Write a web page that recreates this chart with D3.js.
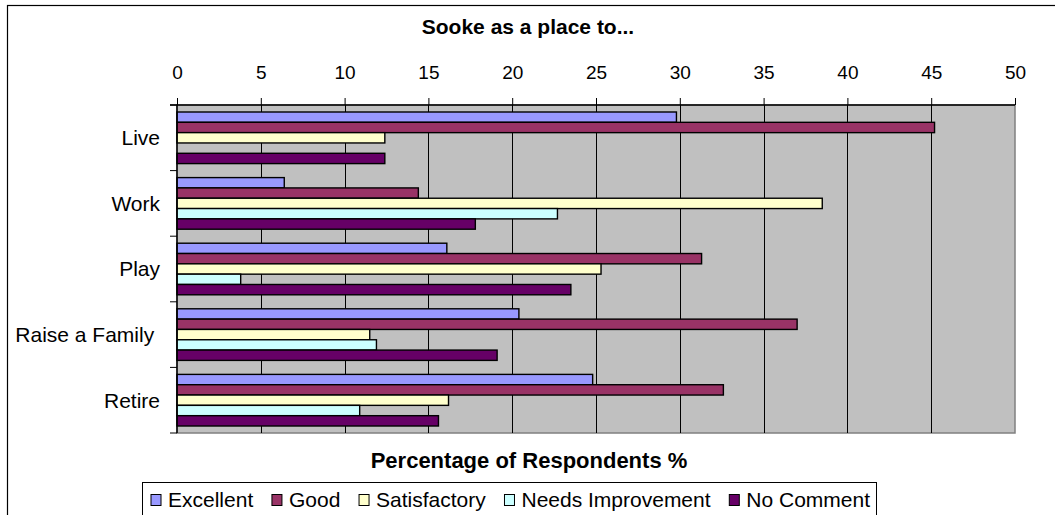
<!DOCTYPE html>
<html>
<head>
<meta charset="utf-8">
<script src="https://cdn.jsdelivr.net/npm/d3@7"></script>
<style>
  html, body { margin: 0; padding: 0; background: #fff; }
  svg { display: block; font-family: Arial, "Liberation Sans", sans-serif; }
  text { white-space: pre; }
</style>
</head>
<body>
<svg id="chart" width="1055" height="515"></svg>
<script>
// ---- data ----
const categories = ["Live", "Work", "Play", "Raise a Family ", "Retire"];
const seriesNames = ["Excellent", "Good", "Satisfactory", "Needs Improvement", "No Comment"];
const excellent = [29.8, 6.4, 16.1, 20.4, 24.8];
const good = [45.2, 14.4, 31.3, 37.0, 32.6];
const satisfactory = [12.4, 38.5, 25.3, 11.5, 16.2];
const needsImprovement = [0, 22.7, 3.8, 11.9, 10.9];
const noComment = [12.4, 17.8, 23.5, 19.1, 15.6];
const xTicks = [0, 5, 10, 15, 20, 25, 30, 35, 40, 45, 50];
const seriesColors = ["#9999FF", "#993366", "#FFFFCC", "#CCFFFF", "#660066"];
const titleText = "Sooke as a place to...";
const xTitleText = "Percentage of Respondents %";

const seriesValues = [excellent, good, satisfactory, needsImprovement, noComment];

const svg = d3.select("#chart");
const FONT = 21;
const TICKFONT = 19;

// outer chart border
svg.append("rect").attr("x", 7.5).attr("y", 5.5).attr("width", 1060).attr("height", 520)
  .attr("fill", "#fff").attr("stroke", "#000").attr("stroke-width", 1.2);

const plot = { left: 177, right: 1015, top: 105, bottom: 433 };

const x = d3.scaleLinear().domain([0, 50]).range([plot.left, plot.right]);
const y0 = d3.scaleBand().domain(categories).range([plot.top, plot.bottom]).padding(0);
const inner = 7;
const y1 = d3.scaleBand().domain(seriesNames).range([inner, y0.bandwidth() - inner]).padding(0);

// plot background
svg.append("rect").attr("x", plot.left).attr("y", plot.top)
  .attr("width", plot.right - plot.left).attr("height", plot.bottom - plot.top)
  .attr("fill", "#C0C0C0").attr("stroke", "#808080").attr("stroke-width", 1.5);

// gridlines
svg.append("g").selectAll("line").data(xTicks.filter(t => t > 0 && t < 50)).join("line")
  .attr("x1", d => Math.round(x(d)) + 0.5).attr("x2", d => Math.round(x(d)) + 0.5)
  .attr("y1", plot.top).attr("y2", plot.bottom)
  .attr("stroke", "#000").attr("stroke-width", 1);

// bars
const groups = svg.append("g").selectAll("g").data(categories).join("g")
  .attr("transform", d => `translate(0,${y0(d)})`);
groups.selectAll("rect")
  .data((c, ci) => seriesNames.map((s, si) => ({ s, si, v: seriesValues[si][ci] })).filter(d => d.v > 0))
  .join("rect")
  .attr("x", x(0))
  .attr("y", d => y1(d.s))
  .attr("width", d => x(d.v) - x(0))
  .attr("height", y1.bandwidth())
  .attr("fill", d => seriesColors[d.si])
  .attr("stroke", "#000").attr("stroke-width", 1.4);

// top axis
const xAxis = d3.axisTop(x).tickValues(xTicks).tickSize(7).tickPadding(20).tickFormat(d3.format("d"));
const gx = svg.append("g").attr("transform", `translate(0,${plot.top})`).call(xAxis);
gx.select(".domain").attr("stroke", "#000").attr("stroke-width", 1.5).attr("d", `M${plot.left - 7},0H${plot.right}`);
gx.selectAll(".tick line").attr("stroke", "#000");
gx.selectAll(".tick text").attr("font-size", TICKFONT).attr("fill", "#000")
  .attr("font-family", "Arial, 'Liberation Sans', sans-serif").attr("dy", "0.35em").attr("y", -33);

// left axis (category boundaries as ticks)
svg.append("line").attr("x1", plot.left).attr("x2", plot.left).attr("y1", plot.top).attr("y2", plot.bottom)
  .attr("stroke", "#000").attr("stroke-width", 1.5);
const bounds = categories.map(c => y0(c)).concat([plot.bottom]);
svg.append("g").selectAll("line").data(bounds).join("line")
  .attr("x1", plot.left - 7).attr("x2", plot.left)
  .attr("y1", d => d).attr("y2", d => d)
  .attr("stroke", "#000").attr("stroke-width", 1);
svg.append("g").selectAll("text").data(categories).join("text")
  .attr("x", 160).attr("y", d => y0(d) + y0.bandwidth() / 2)
  .attr("dy", "0.35em").attr("text-anchor", "end")
  .attr("font-size", FONT).attr("fill", "#000").text(d => d);

// title
svg.append("text").attr("x", 528).attr("y", 27).attr("dy", "0.35em").attr("text-anchor", "middle")
  .attr("font-size", FONT).attr("font-weight", "bold").text(titleText);

// x title
svg.append("text").attr("x", 529).attr("y", 460).attr("dy", "0.35em").attr("text-anchor", "middle")
  .attr("font-size", 22).attr("font-weight", "bold").text(xTitleText);

// legend
const leg = { left: 142, right: 876, top: 482, cy: 500 };
svg.append("rect").attr("x", leg.left + 0.5).attr("y", leg.top + 0.5)
  .attr("width", leg.right - leg.left).attr("height", 60)
  .attr("fill", "#fff").attr("stroke", "#000").attr("stroke-width", 1);
const items = svg.append("g").selectAll("g").data(seriesNames).join("g");
items.append("rect").attr("width", 10).attr("height", 11).attr("y", leg.cy - 5.5)
  .attr("fill", (d, i) => seriesColors[i]).attr("stroke", "#000").attr("stroke-width", 1);
items.append("text").attr("x", 17).attr("y", leg.cy).attr("dy", "0.35em")
  .attr("font-size", FONT).attr("fill", "#000").text(d => d);
const widths = items.nodes().map(n => 17 + n.querySelector("text").getComputedTextLength());
const startX = 151, endX = 870;
const total = d3.sum(widths);
const gap = (endX - startX - total) / (seriesNames.length - 1);
let cx = startX;
items.each(function (d, i) {
  d3.select(this).attr("transform", `translate(${cx},0)`);
  cx += widths[i] + gap;
});
</script>
</body>
</html>
